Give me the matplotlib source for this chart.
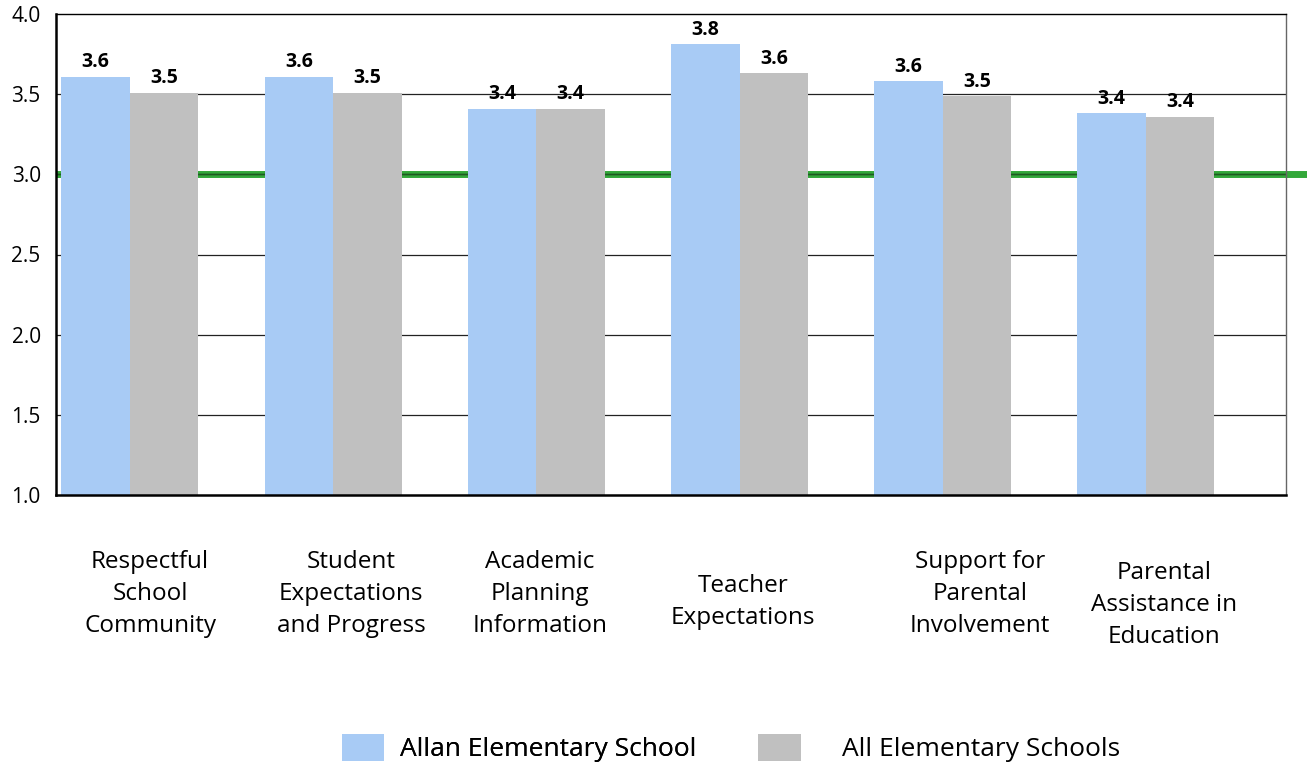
import matplotlib
matplotlib.use("Agg")
import matplotlib.pyplot as plt
from matplotlib.patches import Patch
import numpy as np

categories = ["Respectful\nSchool\nCommunity", "Student\nExpectations\nand Progress",
              "Academic\nPlanning\nInformation", "Teacher\nExpectations",
              "Support for\nParental\nInvolvement", "Parental\nAssistance in\nEducation"]
allan = [3.61, 3.61, 3.41, 3.81, 3.58, 3.38]
all_schools = [3.51, 3.51, 3.41, 3.63, 3.49, 3.36]
allan_labels = ["3.6", "3.6", "3.4", "3.8", "3.6", "3.4"]
all_labels = ["3.5", "3.5", "3.4", "3.6", "3.5", "3.4"]
yticks = [1.0, 1.5, 2.0, 2.5, 3.0, 3.5, 4.0]
target = 3.0
series_names = ["Allan Elementary School", "All Elementary Schools"]

blue = "#a8cbf5"
gray = "#c0c0c0"
green = "#33a83a"

plt.rcParams['font.family'] = ['Open Sans', 'DejaVu Sans']

fig = plt.figure(figsize=(13.07, 7.67), dpi=100)
ax = fig.add_axes([56/1307, 1-495/767, 1230/1307, 481/767])

x = np.arange(len(categories))
w = 0.337
ax.set_xlim(-0.364, -0.364 + 1230/203.2)
ax.set_ylim(1.0, 4.0)

# gridlines
for yv in yticks[1:-1]:
    ax.axhline(yv, color="#222222", lw=0.9, zorder=1)
# green target line
ax.plot([0.0, 1.02], [target, target], transform=ax.get_yaxis_transform(),
        color=green, lw=5, zorder=0.9, clip_on=False, solid_capstyle="butt")
ax.axhline(target, color="#1f5a22", lw=1.0, zorder=1)

b1 = ax.bar(x - w/2, np.array(allan) - 1.0, w, bottom=1.0, color=blue, zorder=2)
b2 = ax.bar(x + w/2, np.array(all_schools) - 1.0, w, bottom=1.0, color=gray, zorder=2)

for rect, lab in zip(b1, allan_labels):
    ax.annotate(lab, (rect.get_x() + rect.get_width()/2, rect.get_y() + rect.get_height()),
                xytext=(0, 3), textcoords="offset points", ha="center", va="bottom",
                fontsize=14, fontweight="bold", zorder=5)
for rect, lab in zip(b2, all_labels):
    ax.annotate(lab, (rect.get_x() + rect.get_width()/2, rect.get_y() + rect.get_height()),
                xytext=(0, 3), textcoords="offset points", ha="center", va="bottom",
                fontsize=14, fontweight="bold", zorder=5)

ax.set_yticks(yticks)
ax.set_yticklabels([f"{v:.1f}" for v in yticks], fontsize=15)
ax.tick_params(axis="y", length=0, pad=11)
ax.set_xticks([])

# category labels (pixel centers converted to data)
label_px = [150, 351, 540, 743, 980, 1164]
label_py = [594, 594, 594, 602, 594, 605]
for cat, px, py in zip(categories, label_px, label_py):
    xd = (px - 56) / 203.2 - 0.364
    yd = 1.0 - (py - 495) / 160.33
    ax.text(xd, yd, cat, ha="center", va="center", fontsize=17.5, linespacing=1.47,
            clip_on=False)

for side in ["left", "bottom"]:
    ax.spines[side].set_linewidth(1.8)
    ax.spines[side].set_color("black")
ax.spines["top"].set_linewidth(1.0)
ax.spines["top"].set_color("black")
ax.spines["right"].set_linewidth(1.0)
ax.spines["right"].set_color("#666666")
for s in ax.spines.values():
    s.set_zorder(3)

leg_common = dict(loc="center", frameon=False, fontsize=19, handlelength=1.6,
                  handleheight=1.2, borderpad=0, borderaxespad=0)
l1 = fig.legend([Patch(facecolor=blue, edgecolor="none")], [series_names[0]],
                bbox_to_anchor=(519/1307, 1-748/767), handletextpad=0.6, **leg_common)
fig.add_artist(l1)
l2 = fig.legend([Patch(facecolor=gray, edgecolor="none")], [series_names[1]],
                bbox_to_anchor=(939/1307, 1-748/767), handletextpad=1.55, **leg_common)

fig.savefig("out.png", dpi=100)
